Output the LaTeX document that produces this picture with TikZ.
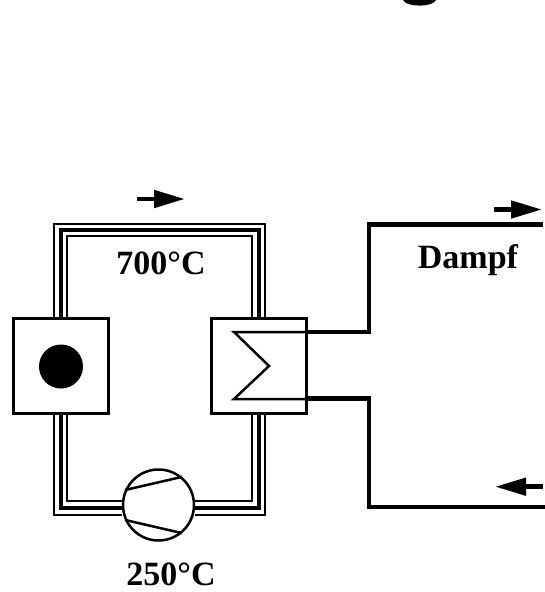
\documentclass[tikz,border=0pt]{standalone}
\usepackage{fontspec}
\setmainfont{Liberation Serif}
\usetikzlibrary{arrows.meta,backgrounds}
\tikzset{
	unitbox/.style={draw, fill=white, line width=2.1pt, minimum size=95pt, inner sep=0pt},
	pumpcircle/.style={draw, fill=white, circle, line width=2.5pt, minimum size=71pt, inner sep=0pt},
	templabel/.style={anchor=base, font=\fontsize{34}{36}\selectfont\bfseries, inner sep=0pt},
	pipethin/.style={draw, line width=2.2pt},
	pipethick/.style={draw, line width=4pt},
	steamline/.style={draw, line width=4.8pt},
	flowarrow/.style={-{Triangle[length=31pt,width=17pt]}, line width=4.8pt},
	thinline/.style={draw, line width=2.5pt}
}
\begin{document}
\begin{tikzpicture}[x=1pt,y=-1pt]
			\useasboundingbox (0,0) rectangle (545,592);
			\node[unitbox] (heater) at (61,366) {};
			\node[unitbox] (exchanger) at (259,366) {};
			\node[pumpcircle] (compressor) at (158.5,505) {};
			\node[circle, fill=black, minimum size=44pt, inner sep=0pt] (core) at (61,366.5) {};
			\node[templabel] (hot) at (161,274) {700°C};
			\node[templabel] (cold) at (171,585) {250°C};
			\node[templabel] (steam) at (468,268) {Dampf};
			\coordinate (steamouta) at (369,332);
			\coordinate (steamoutb) at (369,224.5);
			\coordinate (steamoutc) at (543,224.5);
			\coordinate (steamina) at (369,398.5);
			\coordinate (steaminb) at (369,507);
			\coordinate (steaminc) at (545,507);
			\coordinate (zigstart) at (234,332);
			\coordinate (zigmid) at (269,366);
			\coordinate (zigend) at (234,399);
			\begin{scope}[on background layer]
				\path[pipethin] (54,318) |- (265,224) -- (265,318);
				\path[pipethick] (60.5,318) |- (259,230) -- (259,318);
				\path[pipethin] (67,318) |- (252,236) -- (252,318);
				\path[pipethin] (54,414) |- (compressor.west |- 0,515);
				\path[pipethick] (60.5,414) |- (compressor.west |- 0,508);
				\path[pipethin] (67,414) |- (compressor.west |- 0,501);
				\path[pipethin] (265,414) |- (compressor.east |- 0,515);
				\path[pipethick] (259,414) |- (compressor.east |- 0,508);
				\path[pipethin] (252,414) |- (compressor.east |- 0,501);
			\end{scope}
			\path[thinline] (exchanger.east |- zigstart) -- (zigstart) -- (zigmid) -- (zigend) -- (exchanger.east |- zigend);
			\path[thinline] (compressor.156) -- (compressor.50);
			\path[thinline] (compressor.204) -- (compressor.310);
			\path[steamline] (exchanger.east |- steamouta) -- (steamouta) -- (steamoutb) -- (steamoutc);
			\path[steamline] (exchanger.east |- steamina) -- (steamina) -- (steaminb) -- (steaminc);
			\coordinate (loopa) at (137,199);
			\coordinate (loopb) at (185,199);
			\coordinate (outa) at (494,209.5);
			\coordinate (outb) at (542,209.5);
			\coordinate (ina) at (543,486.7);
			\coordinate (inb) at (495,486.7);
			\draw[flowarrow] (loopa) -- (loopb);
			\draw[flowarrow] (outa) -- (outb);
			\draw[flowarrow] (ina) -- (inb);
			\fill (403,0) .. controls (406,7.5) and (433,7.5) .. (436,0) -- cycle;
		\end{tikzpicture}
\end{document}
